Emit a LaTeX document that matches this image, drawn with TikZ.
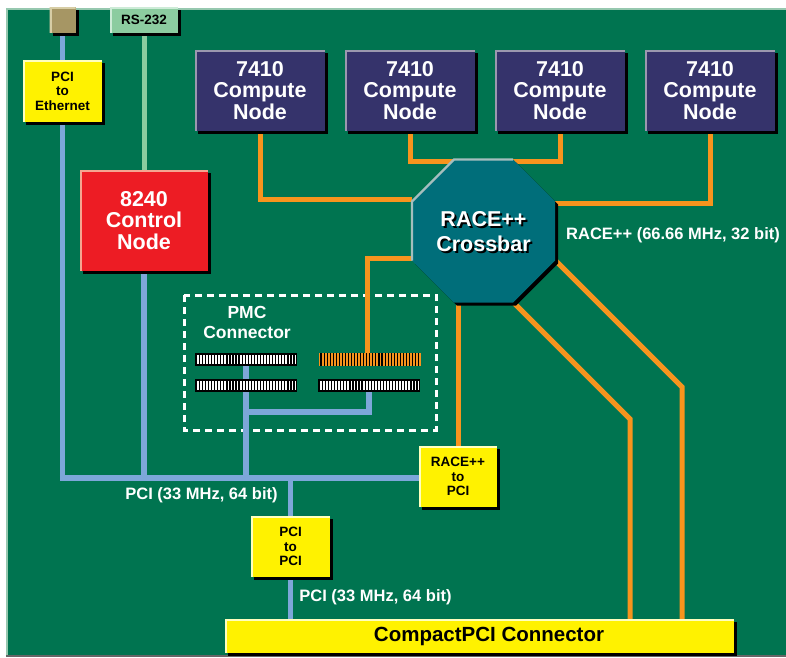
\documentclass[tikz,border=0pt]{standalone}
\usepackage{fontspec}
\setmainfont{Liberation Sans}
\definecolor{cboard}{RGB}{0,116,80}
\definecolor{cborder}{RGB}{150,200,175}
\definecolor{corange}{RGB}{247,148,29}
\definecolor{cblue}{RGB}{125,167,217}
\definecolor{cgreen}{RGB}{140,204,160}
\definecolor{cgreenlt}{RGB}{205,235,215}
\definecolor{ctan}{RGB}{166,150,100}
\definecolor{ctanlt}{RGB}{215,205,165}
\definecolor{cyel}{RGB}{255,242,0}
\definecolor{cyellt}{RGB}{255,255,190}
\definecolor{cnavy}{RGB}{53,51,107}
\definecolor{cnavylt}{RGB}{155,152,175}
\definecolor{cred}{RGB}{237,28,36}
\definecolor{credlt}{RGB}{245,165,145}
\definecolor{cteal}{RGB}{0,110,122}
\definecolor{ctealt}{RGB}{165,190,190}
\newcommand\shadowtext[1]{\leavevmode\rlap{\kern2pt\raisebox{-2pt}{\textcolor{black}{#1}}}#1}
\pgfdeclarelayer{board}
\pgfdeclarelayer{wires}
\pgfsetlayers{board,wires,main}
\tikzset{
  bev/.style 2 args={fill=#1, inner sep=0pt, outer sep=0pt, align=center,
    preaction={fill=black, transform canvas={shift={(3pt,-3pt)}}},
    path picture={\draw[#2, line width=4pt] (path picture bounding box.south west) -- (path picture bounding box.north west) -- (path picture bounding box.north east);}},
  ybox/.style={bev={cyel}{cyellt}, text=black, font=\bfseries\fontsize{13.5}{14.5}\selectfont},
  cnode/.style={bev={cnavy}{cnavylt}, text=white, minimum width=130pt, minimum height=81pt, font=\bfseries\fontsize{21.5}{21.5}\selectfont},
  orng/.style={draw=corange, line width=5pt},
  blu/.style={draw=cblue, line width=5.5pt},
  grn/.style={draw=cgreen, line width=5pt},
  lbl/.style={text=white, inner sep=0pt, font=\bfseries\fontsize{16.5}{18}\selectfont},
  bstrip/.style={minimum width=102pt, minimum height=13pt, inner sep=0pt, outer sep=0pt, fill=black,
    path picture={\foreach \i in {0,...,32}{\fill[white] ([shift={(2pt+\i*3.05pt,2pt)}]path picture bounding box.south west) rectangle ++(1.8pt,9pt);}}},
  ostrip/.style={minimum width=102pt, minimum height=13pt, inner sep=0pt, outer sep=0pt, fill=corange,
    path picture={\foreach \i in {0,...,32}{\draw[black, line width=1.1pt] ([shift={(2.5pt+\i*3.05pt,0pt)}]path picture bounding box.south west) -- ++(0pt,13pt);}}},
  xbtext/.style={text=white, align=center, inner sep=0pt, font=\bfseries\fontsize{21.5}{25}\selectfont}
}
\begin{document}
\begin{tikzpicture}[x=1pt,y=-1pt]
\useasboundingbox (0,0) rectangle (786,657);
\begin{pgfonlayer}{board}
\fill[white] (0,0) rectangle (786,657);
\fill[cboard] (6,8) rectangle (786,657);
\draw[cborder, line width=2pt] (7,657) -- (7,9) -- (786,9);
\draw[black!60, line width=1.5pt] (6,656) -- (786,656);
\end{pgfonlayer}

% connectors at the top
\node[bev={ctan}{ctanlt}, minimum width=26pt, minimum height=26pt] (ethc) at (62.5,20) {};
\node[bev={cgreen}{cgreenlt}, minimum width=68pt, minimum height=26pt, text=black, font=\bfseries\fontsize{13.5}{14}\selectfont] (rs232) at (144,20) {RS-232};

% boxes
\node[ybox, minimum width=79pt, minimum height=62pt] (pcieth) at (62.5,91) {PCI\\to\\Ethernet};
\node[bev={cred}{credlt}, text=white, minimum width=128pt, minimum height=101pt, font=\bfseries\fontsize{21.5}{21.5}\selectfont] (ctrl) at (144,220.5) {8240\\Control\\Node};
\node[cnode] (cn1) at (260,90.5) {7410\\Compute\\Node};
\node[cnode] (cn2) at (410,90.5) {7410\\Compute\\Node};
\node[cnode] (cn3) at (560,90.5) {7410\\Compute\\Node};
\node[cnode] (cn4) at (710,90.5) {7410\\Compute\\Node};
\node[ybox, minimum width=78pt, minimum height=61pt] (r2p) at (458,476.5) {RACE++\\to\\PCI};
\node[ybox, minimum width=79pt, minimum height=61pt] (p2p) at (290.5,546.5) {PCI\\to\\PCI};
\node[bev={cyel}{cyellt}, text=black, minimum width=509pt, minimum height=34pt, font=\bfseries\fontsize{20.5}{22}\selectfont] (cpci) at (479.5,636) {\hspace*{19pt}CompactPCI Connector};

% PMC connector strips
\node[bstrip] (s1) at (246,359.5) {};
\node[bstrip] (s2) at (246,385.5) {};
\node[ostrip] (s3) at (369.5,359.5) {};
\node[bstrip] (s4) at (369,385.5) {};
\node[lbl, align=center, font=\bfseries\fontsize{17.5}{20}\selectfont] (pmclbl) at (247,322) {PMC\\Connector};

% crossbar outline points
\coordinate (v1) at (454,159.5);
\coordinate (v2) at (513,159.5);
\coordinate (v3) at (555,201.5);
\coordinate (v4) at (555,260.5);
\coordinate (v5) at (513,302.5);
\coordinate (v6) at (454,302.5);
\coordinate (v7) at (412,260.5);
\coordinate (v8) at (412,201.5);
\fill[black] ([shift={(3pt,-3pt)}]v1) -- ([shift={(3pt,-3pt)}]v2) -- ([shift={(3pt,-3pt)}]v3) -- ([shift={(3pt,-3pt)}]v4) -- ([shift={(3pt,-3pt)}]v5) -- ([shift={(3pt,-3pt)}]v6) -- ([shift={(3pt,-3pt)}]v7) -- ([shift={(3pt,-3pt)}]v8) -- cycle;
\fill[cteal] (v1) -- (v2) -- (v3) -- (v4) -- (v5) -- (v6) -- (v7) -- (v8) -- cycle;
\draw[ctealt, line width=2.2pt, line join=miter] (v7) -- (v8) -- (v1) -- (v2);
\node[xbtext] (xb) at (483.5,232.5) {\shadowtext{RACE++}\\\shadowtext{Crossbar}};

% crossbar port points
\coordinate (xbl1) at (412,199);
\coordinate (xbtop) at (483.5,161);
\coordinate (xbr1) at (555,203);
\coordinate (xbl2) at (412,258);
\coordinate (xbb1) at (458,302);
\coordinate (xbb2) at (513,302);
\coordinate (xbd1) at (630,419);
\coordinate (xbr2) at (555,260);
\coordinate (xbd2) at (682,387);
\coordinate (busL) at (59.75,478);
\coordinate (pmcj) at (246,412);

% labels
\node[lbl, anchor=west] (racelbl) at (566,235) {RACE++ (66.66 MHz, 32 bit)};
\node[lbl] (pcilbl1) at (201.5,495) {PCI (33 MHz, 64 bit)};
\node[lbl] (pcilbl2) at (375.5,597) {PCI (33 MHz, 64 bit)};

\begin{pgfonlayer}{wires}
\draw[white, line width=3pt, dash pattern=on 7pt off 5pt] (184,295) rectangle (436,430);
% orange RACE++ links
\draw[orng] (cn1.south) |- (xbl1);
\draw[orng] (cn2.south) |- (xbtop) -| (cn3.south);
\draw[orng] (cn4.south) |- (xbr1);
\draw[orng] (xbl2) -| ([xshift=-2pt]s3.north);
\draw[orng] (xbb1) -- (r2p.north);
\draw[orng] (xbb2) -- (xbd1) -- (cpci.north -| xbd1);
\draw[orng] (xbr2) -- (xbd2) -- (cpci.north -| xbd2);
% PCI links
\draw[blu] (ethc.south) -- (pcieth.north);
\draw[blu] (pcieth.south) -- (pcieth.south |- busL);
\draw[blu] (ctrl.south) -- (ctrl.south |- busL);
\draw[blu] (s1.south) -- (s1.south |- busL);
\draw[blu] (s4.south) |- (pmcj);
\draw[blu] (busL) -- (busL -| r2p.west);
\draw[blu] (p2p.north |- busL) -- (p2p.north);
\draw[blu] (p2p.south) -- (p2p.south |- cpci.north);
% serial link
\draw[grn] (rs232.south) -- (ctrl.north);
\end{pgfonlayer}
\end{tikzpicture}
\end{document}
